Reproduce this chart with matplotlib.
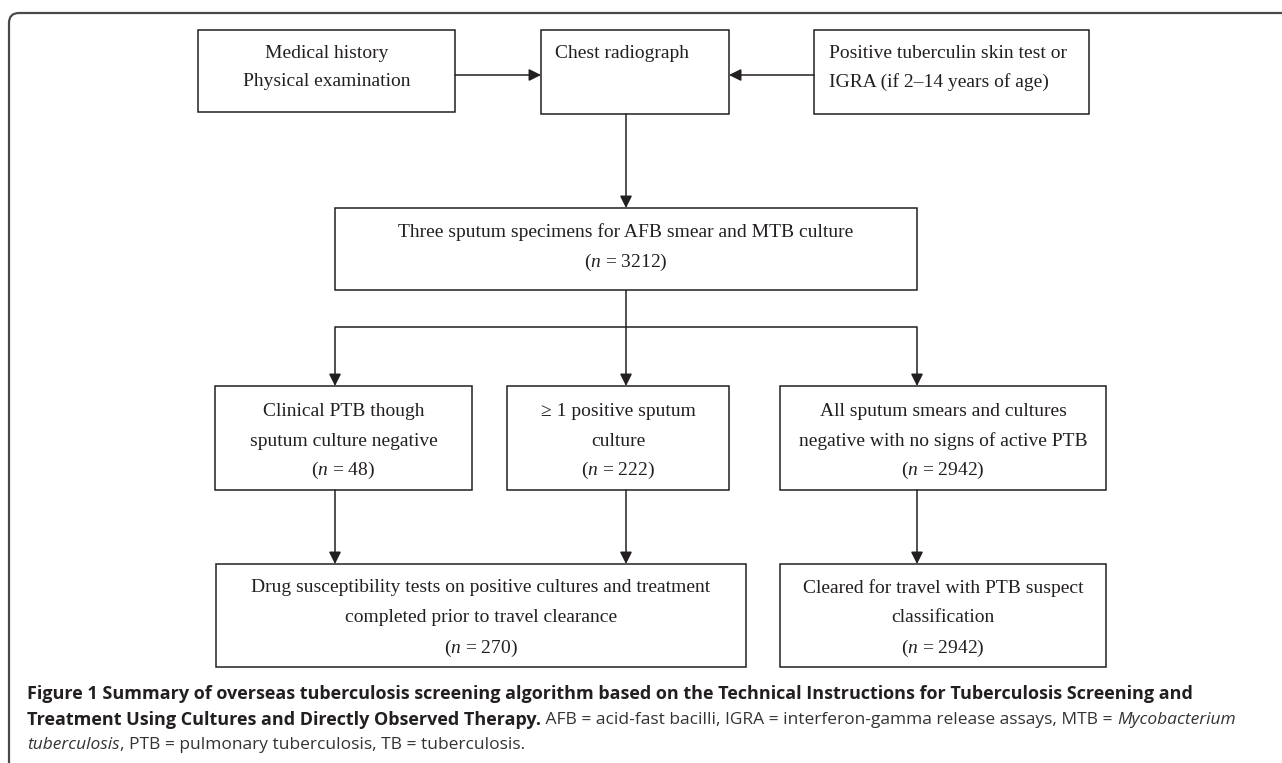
import matplotlib.pyplot as plt
from matplotlib.patches import Rectangle, FancyBboxPatch

plt.rcParams['mathtext.fontset'] = 'custom'
plt.rcParams['mathtext.rm'] = 'Liberation Serif'
plt.rcParams['mathtext.it'] = 'Liberation Serif:italic'

""" Flowchart content """
history_lines = ['Medical history', 'Physical examination']
radiograph_lines = ['Chest radiograph']
skin_test_lines = ['Positive tuberculin skin test or', 'IGRA (if 2\u201314 years of age)']
sputum_lines = ['Three sputum specimens for AFB smear and MTB culture']
clinical_lines = ['Clinical PTB though', 'sputum culture negative']
positive_lines = ['\u2265 1 positive sputum', 'culture']
negative_lines = ['All sputum smears and cultures', 'negative with no signs of active PTB']
treated_lines = ['Drug susceptibility tests on positive cultures and treatment',
                 'completed prior to travel clearance']
cleared_lines = ['Cleared for travel with PTB suspect', 'classification']

n_sputum = 3212
n_clinical = 48
n_positive = 222
n_negative = 2942
n_treated = 270
n_cleared = 2942

caption_lines = [
    [('Figure 1 Summary of overseas tuberculosis screening algorithm based on the Technical '
      'Instructions for Tuberculosis Screening and', 'bold', 'normal')],
    [('Treatment Using Cultures and Directly Observed Therapy.', 'bold', 'normal'),
     (' AFB = acid-fast bacilli, IGRA = interferon-gamma release assays, MTB = ', 'normal', 'normal'),
     ('Mycobacterium', 'normal', 'italic')],
    [('tuberculosis', 'normal', 'italic'),
     (', PTB = pulmonary tuberculosis, TB = tuberculosis.', 'normal', 'normal')],
]

INK = '#231f20'
FONT = 'Liberation Serif'
FS = 14


def n_label(n):
    return '($n$ = %d)' % n


def draw_box(ax, x0, y0, x1, y1, lines, line_ys, align='center', pad=15):
    ax.add_patch(Rectangle((x0, y0), x1 - x0, y1 - y0, fill=False, ec=INK, lw=1.1))
    for text, y in zip(lines, line_ys):
        if align == 'center':
            ax.text((x0 + x1) / 2, y, text, ha='center', va='center',
                    family=FONT, fontsize=FS, color=INK)
        else:
            ax.text(x0 + pad, y, text, ha='left', va='center',
                    family=FONT, fontsize=FS, color=INK)


def arrow(ax, start, end):
    ax.annotate('', xy=end, xytext=start,
                arrowprops=dict(arrowstyle='-|>,head_length=0.6,head_width=0.3',
                                mutation_scale=12, lw=1.1, color=INK,
                                shrinkA=0, shrinkB=0))


def line(ax, xs, ys):
    ax.plot(xs, ys, color=INK, lw=1.1, solid_capstyle='butt')


if __name__ == '__main__':

    fig = plt.figure(figsize=(12.82, 7.63), dpi=100)
    ax = fig.add_axes([0, 0, 1, 1])
    ax.set_xlim(0, 1282)
    ax.set_ylim(763, 0)
    ax.axis('off')

    """ Outer frame """
    ax.add_patch(FancyBboxPatch((9, 13), 1400, 900,
                                boxstyle='round,pad=0,rounding_size=10',
                                fill=False, ec='#4a4a4a', lw=1.6))

    """ Top row """
    draw_box(ax, 198, 30, 455, 112, history_lines, [54, 82])
    draw_box(ax, 541, 30, 729, 114, radiograph_lines, [54], align='left', pad=14)
    draw_box(ax, 814, 30, 1089, 114, skin_test_lines, [54, 82], align='left', pad=15)
    arrow(ax, (455, 75), (541, 75))
    arrow(ax, (814, 75), (729, 75))
    arrow(ax, (626, 114), (626, 208))

    """ Sputum specimens """
    draw_box(ax, 335, 208, 917, 290, sputum_lines + [n_label(n_sputum)], [232, 262])
    line(ax, [626, 626], [290, 327])
    line(ax, [335, 917], [327, 327])
    for x in (335, 626, 917):
        arrow(ax, (x, 327), (x, 386))

    """ Middle row """
    mid_ys = [412, 441, 470]
    draw_box(ax, 215, 386, 472, 490, clinical_lines + [n_label(n_clinical)], mid_ys)
    draw_box(ax, 507, 386, 729, 490, positive_lines + [n_label(n_positive)], mid_ys)
    draw_box(ax, 780, 386, 1106, 490, negative_lines + [n_label(n_negative)], mid_ys)
    for x in (335, 626, 917):
        arrow(ax, (x, 490), (x, 564))

    """ Bottom row """
    bot_ys = [588, 618, 648]
    draw_box(ax, 216, 564, 746, 667, treated_lines + [n_label(n_treated)], bot_ys)
    draw_box(ax, 780, 564, 1106, 667, cleared_lines + [n_label(n_cleared)], bot_ys)

    """ Caption """
    renderer = fig.canvas.get_renderer()
    for runs, y in zip(caption_lines, [694, 720, 745]):
        x = 27
        for text, weight, style in runs:
            t = ax.text(x, y, text, ha='left', va='center', family='Open Sans',
                        fontsize=13 if weight == 'bold' else 12.5,
                        fontweight=weight, fontstyle=style,
                        color=INK if weight == 'bold' else '#333333')
            x += t.get_window_extent(renderer).width

    fig.savefig('out.png', dpi=100)
